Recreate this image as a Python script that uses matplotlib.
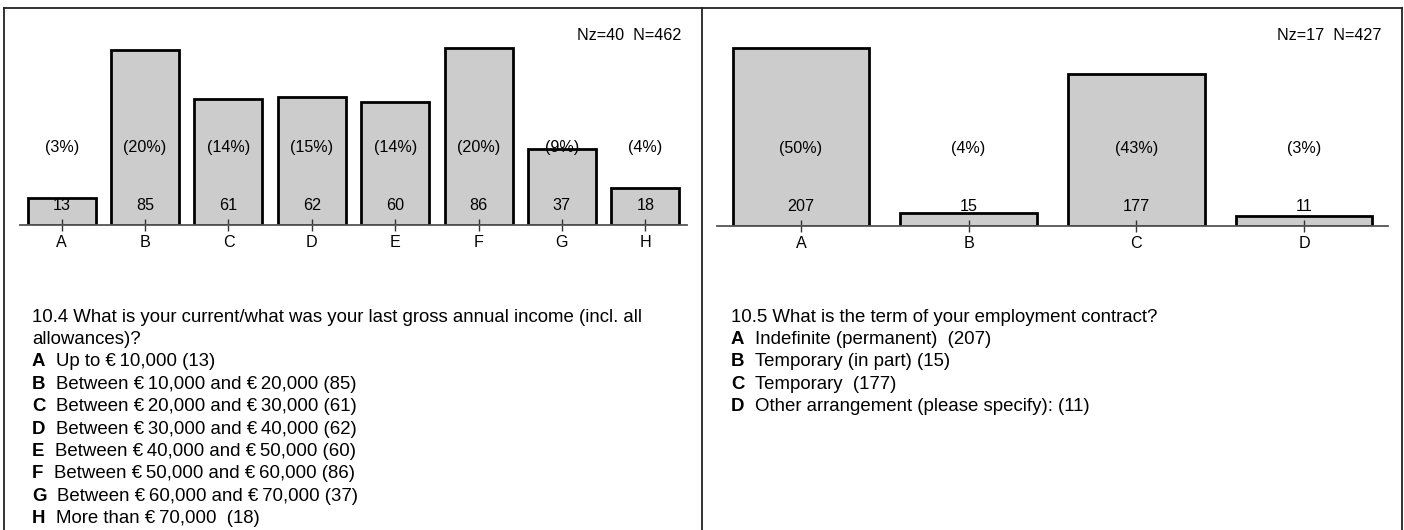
import matplotlib.pyplot as plt
from matplotlib.lines import Line2D

plt.rcParams['font.family'] = ['Liberation Sans', 'DejaVu Sans']

# 10.4 income
cats_l = ['A', 'B', 'C', 'D', 'E', 'F', 'G', 'H']
counts_l = [13, 85, 61, 62, 60, 86, 37, 18]
pct_l = [3, 20, 14, 15, 14, 20, 9, 4]
nz_l, n_l = 40, 462
question_l = '10.4 What is your current/what was your last gross annual income (incl. all\nallowances)?'
answers_l = ['Up to €\u200910,000 (13)',
             'Between €\u200910,000 and €\u200920,000 (85)',
             'Between €\u200920,000 and €\u200930,000 (61)',
             'Between €\u200930,000 and €\u200940,000 (62)',
             'Between €\u200940,000 and €\u200950,000 (60)',
             'Between €\u200950,000 and €\u200960,000 (86)',
             'Between €\u200960,000 and €\u200970,000 (37)',
             'More than €\u200970,000  (18)']

# 10.5 contract
cats_r = ['A', 'B', 'C', 'D']
counts_r = [207, 15, 177, 11]
pct_r = [50, 4, 43, 3]
nz_r, n_r = 17, 427
question_r = '10.5 What is the term of your employment contract?'
answers_r = ['Indefinite (permanent)  (207)',
             'Temporary (in part) (15)',
             'Temporary  (177)',
             'Other arrangement (please specify): (11)']

W, H = 1404, 530
fig = plt.figure(figsize=(W / 100, H / 100), dpi=100)

FS_BAR = 11.6
FS_TXT = 13.4


def px(x0, y0, w, h):
    # pixel box (from top-left) -> figure fraction
    return [x0 / W, 1 - (y0 + h) / H, w / W, h / H]


def bar_panel(rect, cats, counts, pct, nz, n):
    ax = fig.add_axes(rect)
    x = range(len(cats))
    ax.bar(x, counts, width=0.815, color='#cccccc', edgecolor='black', linewidth=2)
    ax.set_xlim(-0.5, len(cats) - 0.5)
    ax.set_ylim(0, max(counts) * 1.16)
    ax.set_xticks(list(x))
    ax.set_xticklabels(cats, fontsize=FS_BAR)
    ax.tick_params(axis='x', direction='inout', length=9, width=1, color='#333333', pad=3)
    ax.set_yticks([])
    for s in ['top', 'left', 'right']:
        ax.spines[s].set_visible(False)
    ax.spines['bottom'].set_color('#555555')
    ax.spines['bottom'].set_linewidth(1.3)
    ax.patch.set_visible(False)
    for i in x:
        ax.text(i, 0.377, '(%d%%)' % pct[i], transform=ax.get_xaxis_transform(),
                ha='center', va='center', fontsize=FS_BAR)
        ax.text(i, 0.093, str(counts[i]), transform=ax.get_xaxis_transform(),
                ha='center', va='center', fontsize=FS_BAR)
    ax.text(0.991, 0.926, 'Nz=%d  N=%d' % (nz, n), transform=ax.transAxes,
            ha='right', va='center', fontsize=FS_BAR)
    return ax


def answer_block(x0, y0, question, cats, answers, dy=22.4):
    lines = question.split('\n')
    for j, ln in enumerate(lines):
        fig.text(x0 / W, 1 - (y0 + j * dy) / H, ln, fontsize=FS_TXT, va='center')
    start = len(lines)
    for k, (c, a) in enumerate(zip(cats, answers)):
        t = fig.text(x0 / W, 1 - (y0 + (start + k) * dy) / H, c, fontsize=FS_TXT,
                     fontweight='bold', va='center')
        plt.annotate(a, xy=(1, 0.5), xycoords=t, xytext=(7.5, 0),
                     textcoords='offset points', va='center', ha='left', fontsize=FS_TXT)


bar_panel(px(20, 20, 667, 204.5), cats_l, counts_l, pct_l, nz_l, n_l)
bar_panel(px(717, 20, 671, 205.5), cats_r, counts_r, pct_r, nz_r, n_r)

answer_block(32, 317, question_l, cats_l, answers_l)
answer_block(731, 317, question_r, cats_r, answers_r)

# panel frame lines
lc = '#222222'
fig.add_artist(Line2D([4 / W, 1402 / W], [1 - 7.5 / H, 1 - 7.5 / H], color=lc, lw=1.3))
for xv in [4, 702, 1402]:
    fig.add_artist(Line2D([xv / W, xv / W], [0, 1 - 7.5 / H], color=lc, lw=1.3))

fig.savefig('out.png', dpi=100)
